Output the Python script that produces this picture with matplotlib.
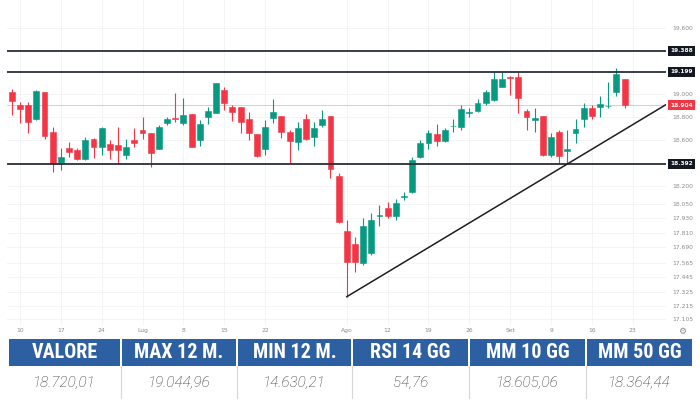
import numpy as np
import pandas as pd
import matplotlib
matplotlib.use("Agg")
import matplotlib.pyplot as plt
from matplotlib.patches import Rectangle
from matplotlib.ticker import NullLocator, NullFormatter
from matplotlib.transforms import blended_transform_factory

# ------------------------------------------------------------
# Data (daily candles from 7 June)
# ------------------------------------------------------------
first_day = "2024-06-07"
opens  = [19020, 18901, 18909, 18779, 19016, 18671, 18392, 18532, 18512, 18435,
          18605, 18536, 18567, 18553, 18472, 18599, 18683, 18657, 18521, 18750,
          18795, 18744, 18823, 18599, 18797, 18837, 19038, 18890, 18885, 18782,
          18649, 18518, 18795, 18808, 18669, 18582, 18782, 18628, 18729, 18808,
          18285, 17826, 17718, 17559, 17645, 17952, 18015, 17951, 18108, 18149,
          18454, 18570, 18651, 18590, 18718, 18709, 18836, 18852, 18920, 18946,
          19067, 19157, 19150, 18855, 18770, 18808, 18465, 18671, 18503, 18664,
          18782, 18879, 18890, 18893, 19016, 19133]
highs  = [19051, 18931, 18931, 19034, 19018, 18712, 18529, 18584, 18526, 18622,
          18619, 18709, 18599, 18715, 18610, 18701, 18802, 18663, 18729, 18802,
          19009, 18964, 18826, 18773, 18890, 19103, 19062, 18905, 18890, 18846,
          18651, 18773, 18955, 18808, 18686, 18758, 18826, 18758, 18858, 18808,
          18314, 17917, 17778, 17931, 17977, 18043, 18071, 18095, 18155, 18454,
          18595, 18689, 18736, 18701, 18780, 18901, 18879, 18960, 19042, 19202,
          19202, 19163, 19202, 18872, 18876, 18808, 18660, 18686, 18682, 18786,
          18920, 18901, 18989, 19105, 19232, 19140]
lows   = [18817, 18744, 18663, 18773, 18605, 18326, 18344, 18454, 18426, 18430,
          18441, 18469, 18432, 18392, 18435, 18541, 18608, 18368, 18518, 18729,
          18758, 18729, 18538, 18547, 18738, 18832, 18861, 18767, 18657, 18599,
          18454, 18469, 18747, 18614, 18398, 18509, 18599, 18544, 18708, 18268,
          17895, 17287, 17490, 17545, 17623, 17871, 17931, 17920, 18082, 18142,
          18441, 18522, 18551, 18584, 18671, 18683, 18804, 18846, 18909, 18938,
          19065, 18994, 18835, 18690, 18669, 18460, 18451, 18392, 18392, 18573,
          18715, 18784, 18804, 18883, 18985, 18883]
closes = [18940, 18872, 18758, 19029, 18634, 18392, 18448, 18495, 18435, 18599,
          18536, 18701, 18512, 18512, 18541, 18576, 18663, 18489, 18715, 18779,
          18786, 18817, 18541, 18736, 18855, 19098, 18920, 18841, 18756, 18663,
          18460, 18709, 18843, 18671, 18590, 18701, 18605, 18701, 18779, 18346,
          17900, 17572, 17572, 17865, 17917, 17959, 17952, 18057, 18122, 18426,
          18570, 18664, 18592, 18683, 18723, 18867, 18846, 18927, 19023, 19133,
          19133, 19145, 18969, 18797, 18795, 18469, 18625, 18460, 18518, 18692,
          18876, 18811, 18911, 18898, 19183, 18905]

# horizontal levels drawn on the chart
levels      = [19388, 19199, 18392]
level_texts = ["19.388", "19.199", "18.392"]
last_price  = 18904
last_text   = "18.904"

# trendline: from the August low to the touch on the 18.392 level
trend_dates  = ["2024-08-05", "2024-09-11"]
trend_values = [17287, 18392]

# axis labels
y_ticks  = [19600, 19000, 18800, 18600, 18200, 18050, 17930, 17810,
            17690, 17565, 17445, 17325, 17215, 17105]
y_labels = ["19.600", "19.000", "18.800", "18.600", "18.200", "18.050", "17.930",
            "17.810", "17.690", "17.565", "17.445", "17.325", "17.215", "17.105"]
x_tick_dates  = ["2024-06-10", "2024-06-17", "2024-06-24", "2024-07-01", "2024-07-08",
                 "2024-07-15", "2024-07-22", "2024-08-05", "2024-08-12", "2024-08-19",
                 "2024-08-26", "2024-09-02", "2024-09-09", "2024-09-16", "2024-09-23"]
x_tick_labels = ["10", "17", "24", "Lug", "8", "15", "22", "Ago",
                 "12", "19", "26", "Set", "9", "16", "23"]

# table under the chart
table_heads  = ["VALORE", "MAX 12 M.", "MIN 12 M.", "RSI 14 GG", "MM 10 GG", "MM 50 GG"]
table_values = ["18.720,01", "19.044,96", "14.630,21", "54,76", "18.605,06", "18.364,44"]

# ------------------------------------------------------------
# Chart
# ------------------------------------------------------------
GREEN, RED = "#089981", "#f23645"

o = np.array(opens, float); h = np.array(highs, float)
l = np.array(lows, float);  c = np.array(closes, float)
days = pd.bdate_range(first_day, periods=len(o) + 5)
day_idx = {d.strftime("%Y-%m-%d"): i for i, d in enumerate(days)}
x = np.arange(len(o))

fig = plt.figure(figsize=(7, 4), dpi=100)
ax = fig.add_axes([7 / 700, 75 / 400, 659 / 700, 325 / 400])
ax.set_yscale("log")
ax.set_ylim(17060, 19855)
ax.set_xlim(-0.59, 80.07)

cols = np.where(c >= o, GREEN, RED)
ax.vlines(x, l, h, colors=cols, lw=0.8, zorder=2)
ax.bar(x, np.abs(c - o), bottom=np.minimum(o, c), width=0.72,
       color=cols, edgecolor=cols, lw=0.4, zorder=2)

for v in levels:
    ax.axhline(v, color="#2a2e39", lw=1.3, zorder=3)
ax.axhline(last_price, color=RED, lw=0.5, alpha=0.45, zorder=1)

# trendline, extended to the right edge (straight in screen space)
tx = [day_idx[d] for d in trend_dates]
slope = (np.log(trend_values[1]) - np.log(trend_values[0])) / (tx[1] - tx[0])
x_end = 82
ax.plot([tx[0], x_end],
        [trend_values[0], np.exp(np.log(trend_values[0]) + slope * (x_end - tx[0]))],
        color="#1e1e1e", lw=1.1, zorder=3)

# axes cosmetics
for s in ax.spines.values():
    s.set_visible(False)
ax.yaxis.tick_right()
ax.set_yticks(y_ticks)
ax.set_yticklabels(y_labels)
ax.yaxis.set_minor_locator(NullLocator())
ax.yaxis.set_minor_formatter(NullFormatter())
ax.set_xticks([day_idx[d] for d in x_tick_dates])
ax.set_xticklabels(x_tick_labels)
ax.tick_params(axis="y", length=0, pad=4.5, labelsize=4.3, labelcolor="#8a8a8a")
ax.tick_params(axis="x", length=0, pad=2.5, labelsize=4.3, labelcolor="#8a8a8a")
ax.grid(True, color="#f1f2f4", lw=0.6, zorder=0)
ax.set_axisbelow(True)

# price boxes on the scale
trans = blended_transform_factory(ax.transAxes, ax.transData)
for v, t in zip(levels, level_texts):
    ax.text(1.006, v, t, transform=trans, ha="left", va="center", fontsize=4.2,
            fontweight="bold", color="white", clip_on=False, zorder=5,
            bbox=dict(boxstyle="square,pad=0.4", fc="#131722", ec="none"))
ax.text(1.006, last_price, last_text, transform=trans, ha="left", va="center",
        fontsize=4.2, fontweight="bold", color="white", clip_on=False, zorder=5,
        bbox=dict(boxstyle="square,pad=0.4", fc=RED, ec="none"))

fig.text(682 / 700, 1 - 331 / 400, "\u2699", ha="center", va="center",
         fontsize=6.5, color="#8a8a8a")

# ------------------------------------------------------------
# Table
# ------------------------------------------------------------
tab = fig.add_axes([0, 0, 1, 80 / 400])
tab.set_xlim(0, 700)
tab.set_ylim(400, 320)
tab.axis("off")

edges = [8, 121, 237, 352, 469, 586, 693]
head_top, head_bot, row_bot = 339, 366, 398
for i, (hd, val) in enumerate(zip(table_heads, table_values)):
    x0, x1 = edges[i] + 1.2, edges[i + 1] - 1.2
    tab.add_patch(Rectangle((x0, head_top), x1 - x0, head_bot - head_top,
                            fc="#2d5fa3", ec="none"))
    xc = (edges[i] + edges[i + 1]) / 2
    tab.text(xc, (head_top + head_bot) / 2 + 0.5, hd, ha="center", va="center",
             color="white", fontsize=14.5, fontweight="bold",
             family=["Liberation Sans Narrow", "Roboto Condensed", "Roboto"])
    tab.text(xc, 383, val, ha="center", va="center", color="#2e2e2e",
             fontsize=11, style="italic", fontweight="light", family=["Roboto"])
for e in edges[1:-1]:
    tab.plot([e, e], [head_bot, row_bot], color="#d6d6d6", lw=0.8)

fig.savefig("out.png", dpi=100)
